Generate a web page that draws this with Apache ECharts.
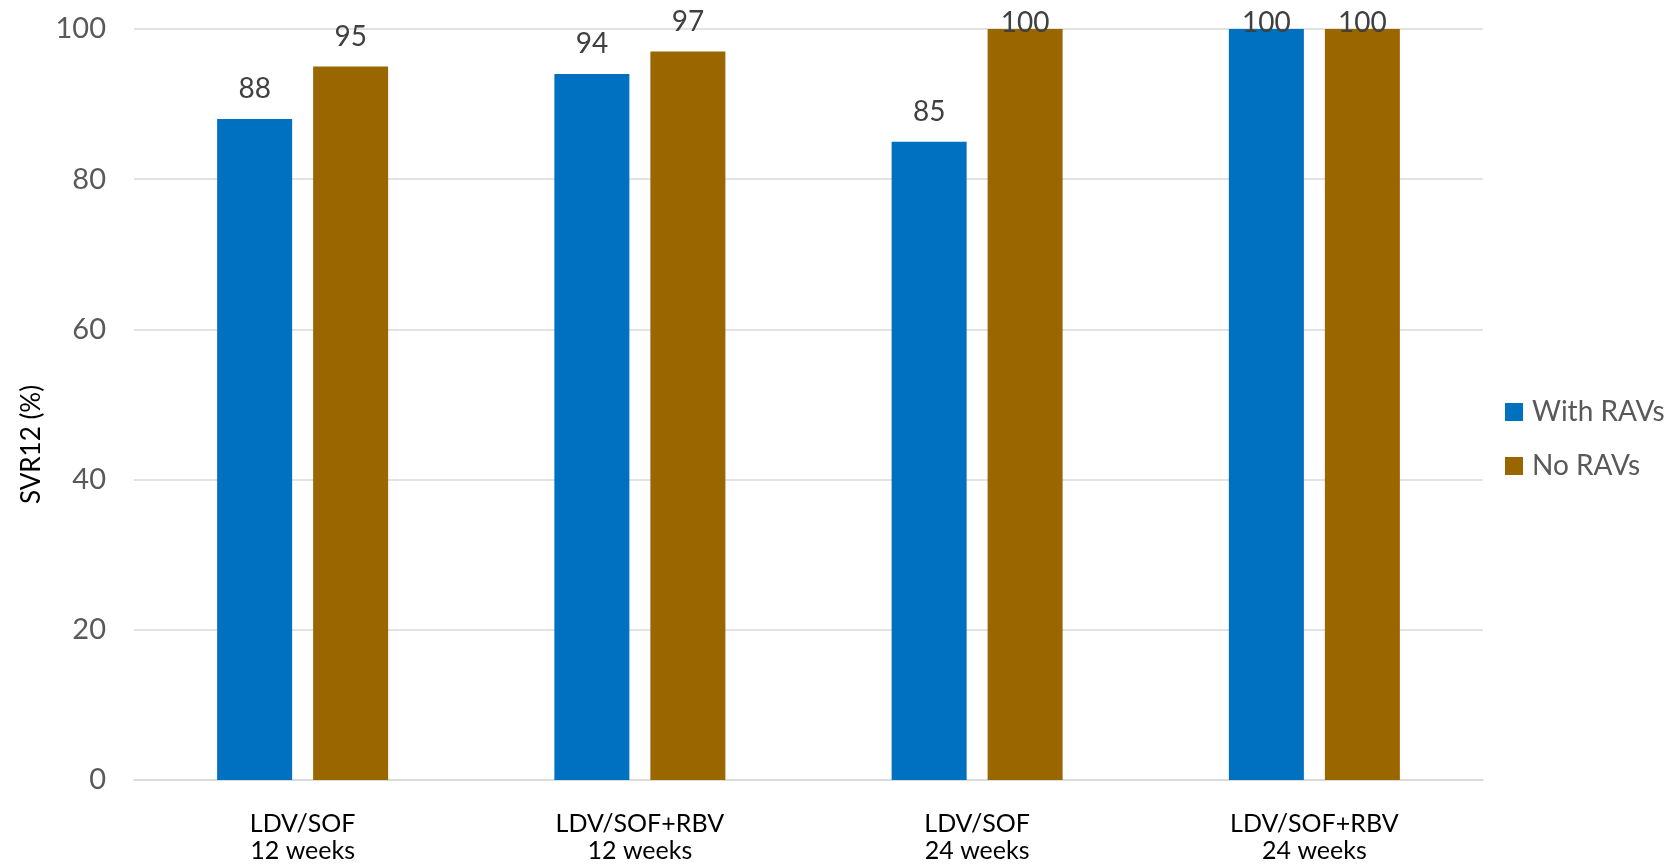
<!DOCTYPE html>
<html>
<head>
<meta charset="utf-8">
<script src="https://cdn.jsdelivr.net/npm/echarts@6/dist/echarts.min.js"></script>
<style>
  html, body { margin: 0; padding: 0; background: #fff; }
  #chart { width: 1680px; height: 865px; }
</style>
</head>
<body>
<div id="chart"></div>
<script>
// Treatment arms shown on the x axis
const categories = ['LDV/SOF\n12 weeks', 'LDV/SOF+RBV\n12 weeks', 'LDV/SOF\n24 weeks', 'LDV/SOF+RBV\n24 weeks'];
// SVR12 rates (%) by resistance-associated variant status
const withRAVs = [88, 94, 85, 100];
const noRAVs = [95, 97, 100, 100];
const seriesNames = ['With RAVs', 'No RAVs'];
const yTicks = [0, 20, 40, 60, 80, 100];

const FONT = 'Lato, "Open Sans", sans-serif';
const Y_MAX = yTicks[yTicks.length - 1];

// Labels on bars that reach the top of the axis are tucked down so they stay on the canvas
function toItems(values) {
  return values.map(v => v >= Y_MAX
    ? { value: v, label: { offset: [0, 24] } }
    : { value: v });
}

const barLabel = {
  show: true, position: 'top', distance: 16,
  fontFamily: FONT, fontSize: 28, color: '#404040'
};

const chart = echarts.init(document.getElementById('chart'), null, { renderer: 'canvas' });
chart.setOption({
  animation: false,
  textStyle: { fontFamily: FONT },
  grid: { left: 134, right: 197, top: 29, bottom: 85, containLabel: false },
  legend: {
    orient: 'vertical',
    left: 1500,
    top: 392,
    itemWidth: 18,
    itemHeight: 18,
    itemGap: 24,
    icon: 'rect',
    textStyle: { fontFamily: FONT, fontSize: 28, lineHeight: 30, color: '#595959', padding: [0, 0, 0, 4] },
    data: seriesNames
  },
  xAxis: {
    type: 'category',
    data: categories,
    axisLine: { show: true, lineStyle: { color: '#D9D9D9', width: 1.5 } },
    axisTick: { show: false },
    axisLabel: {
      fontFamily: FONT, fontSize: 25, color: '#000', lineHeight: 27, margin: 30, interval: 0
    }
  },
  yAxis: {
    type: 'value',
    min: 0,
    max: Y_MAX,
    interval: yTicks[1] - yTicks[0],
    name: 'SVR12 (%)',
    nameLocation: 'middle',
    nameGap: 84,
    nameRotate: 90,
    nameTextStyle: { fontFamily: FONT, fontSize: 26, color: '#000', padding: [0, 80, 0, 0] },
    axisLine: { show: false },
    axisTick: { show: false },
    splitLine: { lineStyle: { color: '#D9D9D9', width: 1.5 } },
    axisLabel: { fontFamily: FONT, fontSize: 29, color: '#595959', margin: 28 }
  },
  series: [
    {
      name: seriesNames[0],
      type: 'bar',
      data: toItems(withRAVs),
      barWidth: 75,
      barGap: '28%',
      itemStyle: { color: '#0070C0' },
      label: barLabel
    },
    {
      name: seriesNames[1],
      type: 'bar',
      data: toItems(noRAVs),
      barWidth: 75,
      barGap: '28%',
      itemStyle: { color: '#996600' },
      label: barLabel
    }
  ]
});
</script>
</body>
</html>
